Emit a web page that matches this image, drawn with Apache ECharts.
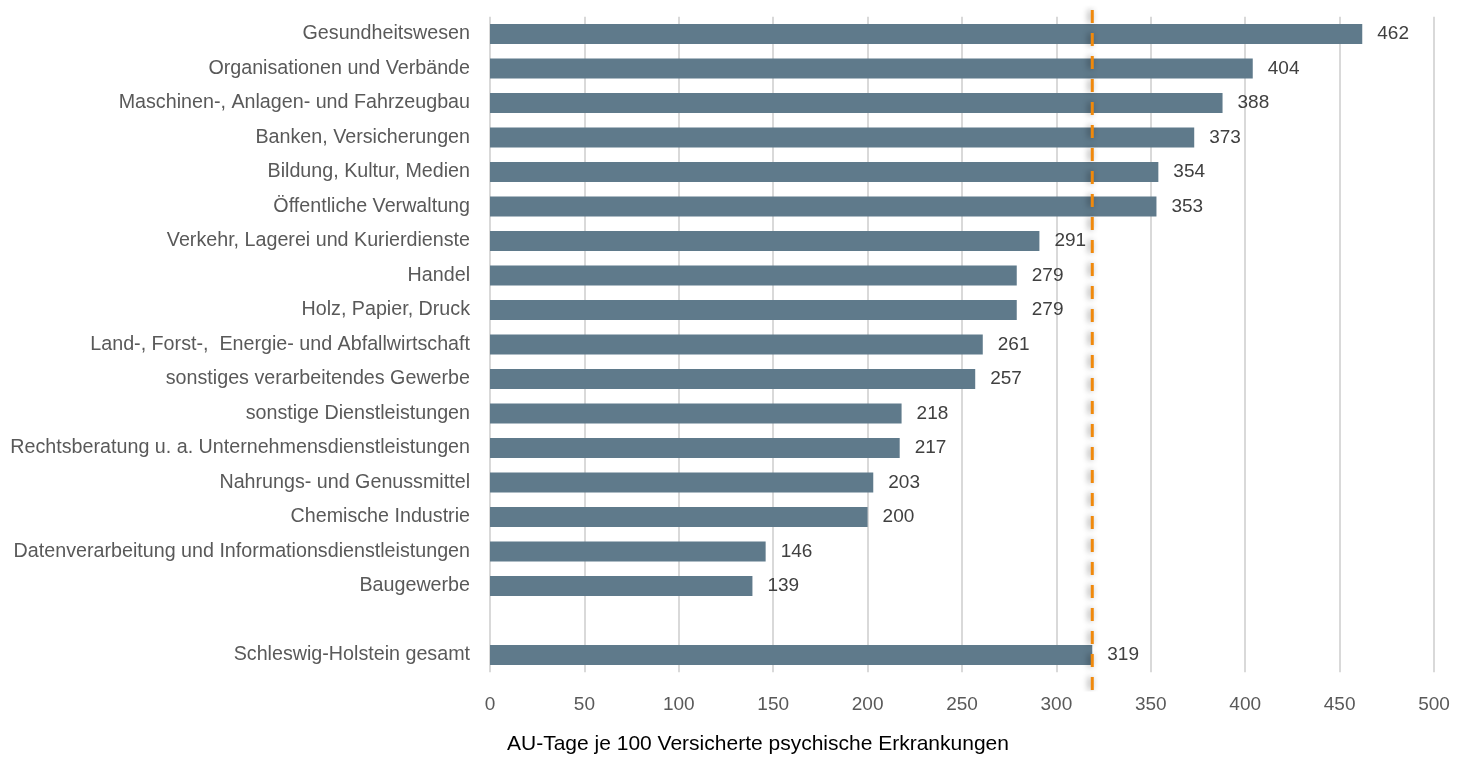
<!DOCTYPE html>
<html>
<head>
<meta charset="utf-8">
<script src="https://cdn.jsdelivr.net/npm/echarts@6/dist/echarts.min.js"></script>
<style>
  html, body { margin: 0; padding: 0; background: #fff; }
  #chart { width: 1458px; height: 760px; }
</style>
</head>
<body>
<div id="chart"></div>
<script>
// Branchen von oben nach unten, leere Zeile als Abstand vor dem Gesamtwert
const categories = [
  'Gesundheitswesen',
  'Organisationen und Verbände',
  'Maschinen-, Anlagen- und Fahrzeugbau',
  'Banken, Versicherungen',
  'Bildung, Kultur, Medien',
  'Öffentliche Verwaltung',
  'Verkehr, Lagerei und Kurierdienste',
  'Handel',
  'Holz, Papier, Druck',
  'Land-, Forst-,  Energie- und Abfallwirtschaft',
  'sonstiges verarbeitendes Gewerbe',
  'sonstige Dienstleistungen',
  'Rechtsberatung u. a. Unternehmensdienstleistungen',
  'Nahrungs- und Genussmittel',
  'Chemische Industrie',
  'Datenverarbeitung und Informationsdienstleistungen',
  'Baugewerbe',
  '',
  'Schleswig-Holstein gesamt'
];
const auTage = [462, 404, 388, 373, 354, 353, 291, 279, 279, 261, 257, 218, 217, 203, 200, 146, 139, null, 319];
const durchschnitt = 319;
const xTicks = { min: 0, max: 500, interval: 50 };

const font = '"Liberation Sans", Arial, sans-serif';
const chart = echarts.init(document.getElementById('chart'));

chart.setOption({
  animation: false,
  textStyle: { fontFamily: font },
  title: {
    text: 'AU-Tage je 100 Versicherte psychische Erkrankungen',
    left: 502,
    top: 729,
    textStyle: { fontFamily: font, fontSize: 21, fontWeight: 'normal', color: '#000' }
  },
  grid: [
    { left: 490, right: 24, top: 16.75, bottom: 760 - 672.25 },
    { left: 490, right: 24, top: 7, bottom: 70 }
  ],
  xAxis: [
    {
      gridIndex: 0,
      type: 'value',
      min: xTicks.min, max: xTicks.max, interval: xTicks.interval,
      axisLine: { show: false },
      axisTick: { show: false },
      axisLabel: { color: '#595959', fontSize: 19, margin: 23, fontFamily: font },
      splitLine: { show: true, lineStyle: { color: '#d9d9d9', width: 2 } }
    },
    {
      gridIndex: 1,
      type: 'value',
      min: xTicks.min, max: xTicks.max,
      show: false
    }
  ],
  yAxis: [
    {
      gridIndex: 0,
      type: 'category',
      inverse: true,
      data: categories,
      axisLine: { show: false },
      axisTick: { show: false },
      axisLabel: { color: '#595959', fontSize: 19.7, margin: 20, fontFamily: font }
    },
    {
      gridIndex: 1,
      type: 'value',
      min: 0, max: 1,
      show: false
    }
  ],
  series: [
    {
      type: 'bar',
      xAxisIndex: 0,
      yAxisIndex: 0,
      data: auTage,
      barWidth: 20,
      itemStyle: { color: '#5f7a8b' },
      label: {
        show: true,
        position: 'right',
        distance: 15,
        color: '#404040',
        fontSize: 19,
        fontFamily: font
      },
      z: 2
    },
    {
      // Durchschnittslinie (gestrichelt, orange)
      type: 'line',
      xAxisIndex: 1,
      yAxisIndex: 1,
      data: [[durchschnitt, 0], [durchschnitt, 1]],
      symbol: 'none',
      silent: true,
      lineStyle: {
        color: '#f0890c',
        width: 3,
        type: [13, 10],
        shadowColor: 'rgba(0,0,0,0.45)',
        shadowBlur: 6,
        shadowOffsetX: -2
      },
      z: 5
    }
  ]
});
</script>
</body>
</html>
